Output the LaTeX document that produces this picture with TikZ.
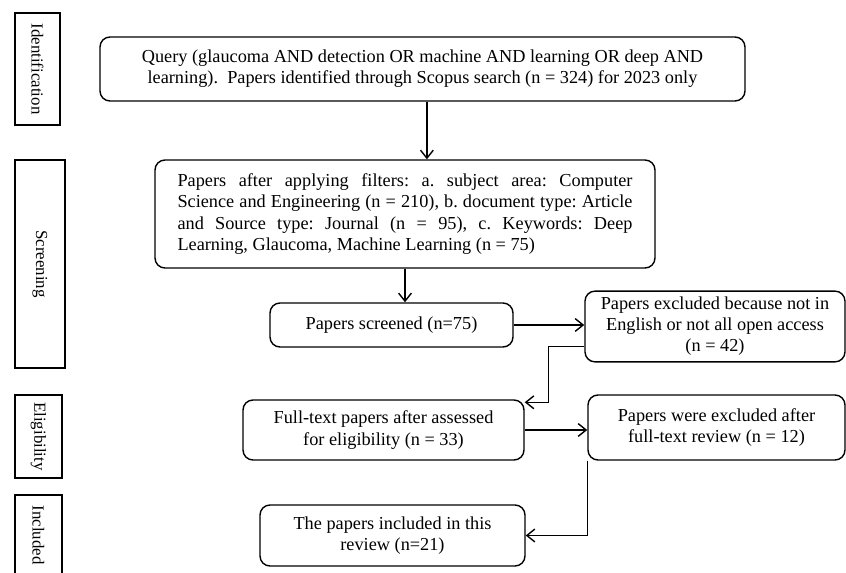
\documentclass[tikz,border=0pt]{standalone}
\usepackage{fontspec}
\setmainfont{Liberation Serif}
\usetikzlibrary{arrows.meta,positioning,calc}
\tikzset{
  box/.style={draw=black, rounded corners=2.5mm, line width=1pt, align=center, inner sep=1.5mm, font=\fontsize{13}{15}\selectfont\frenchspacing},
  phasebox/.style={draw=black, line width=1pt, rotate=-90, inner sep=0pt, font=\fontsize{12}{14.4}\selectfont},
  arrow/.style={-{Straight Barb[length=2mm,width=3.2mm]}, line width=1pt, draw=black}
}
\begin{document}
\begin{tikzpicture}
  \useasboundingbox (0,0) rectangle (21.15,-14.325);
  % phase labels on the left
  \node[phasebox, minimum width=2.8cm, minimum height=1.125cm] (ident) at (0.94,-1.725) {Identification};
  \node[phasebox, minimum width=5.2cm, minimum height=1.25cm] (screen) at (1.0,-6.6) {Screening};
  \node[phasebox, minimum width=2.075cm, minimum height=1.175cm] (elig) at (0.9625,-10.91) {Eligibility};
  \node[phasebox, minimum width=2.0cm, minimum height=1.175cm] (inclabel) at (0.9625,-13.375) {Included};
  % flow boxes
  \node[box, minimum width=16.125cm, minimum height=1.6cm] (query) at (10.5625,-1.725) {Query (glaucoma AND detection OR machine AND learning OR deep AND\\learning).~~Papers identified through Scopus search (n = 324) for 2023 only};
  \node[box, minimum width=12.5cm, minimum height=2.7cm, text width=11.375cm, align=justify] (filters) at (10.125,-5.35) {Papers after applying filters: a. subject area: Computer\linebreak Science and Engineering (n = 210), b. document type: Article\linebreak and Source type: Journal (n = 95), c. Keywords: Deep\linebreak Learning, Glaucoma, Machine Learning (n = 75)};
  \node[box, minimum width=6.075cm, minimum height=1.1cm] (screened) at (9.7875,-8.125) {Papers screened (n=75)};
  \node[box, minimum width=6.5cm, minimum height=1.675cm] (excl1) at (17.875,-8.1625) {Papers excluded because not in\\English or not all open access\\(n = 42)};
  \node[box, minimum width=7.025cm, minimum height=1.5cm] (full) at (9.5875,-10.75) {Full-text papers after assessed\\for eligibility (n = 33)};
  \node[box, minimum width=6.425cm, minimum height=1.625cm] (excl2) at (17.9125,-10.6875) {Papers were excluded after\\full-text review (n = 12)};
  \node[box, minimum width=6.625cm, minimum height=1.525cm] (incl) at (9.8125,-13.3875) {The papers included in this\\review (n=21)};
  % connectors
  \draw[arrow] ([xshift=1.1mm]query.south) -- ([xshift=1.1mm]query.south |- filters.north);
  \draw[arrow] (filters.south) -- (filters.south |- screened.north);
  \draw[arrow] (screened.east) -- (screened.east -| excl1.west);
  \draw[arrow] ([yshift=-5mm]excl1.west) -| ([xshift=6mm,yshift=-0.75mm]full.north east) -- ([yshift=-0.75mm]full.north east);
  \draw[arrow] (full.east) -- (full.east -| excl2.west);
  \draw[arrow] (excl2.south west) |- (incl.east);
\end{tikzpicture}
\end{document}
